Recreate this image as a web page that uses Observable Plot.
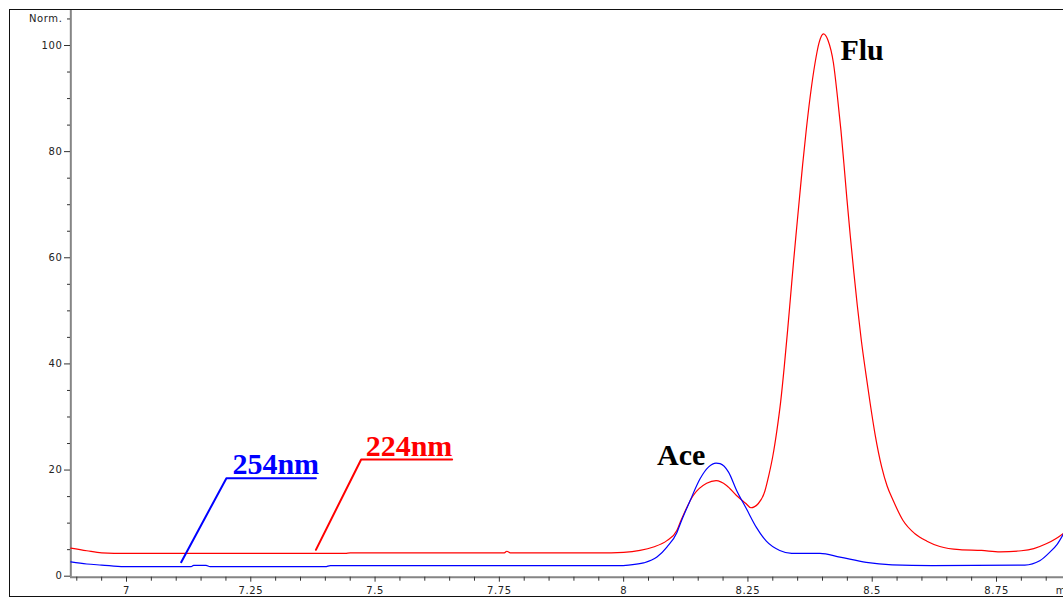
<!DOCTYPE html>
<html>
<head>
<meta charset="utf-8">
<script src="https://cdn.jsdelivr.net/npm/d3@7"></script>
<script src="https://cdn.jsdelivr.net/npm/@observablehq/plot@0.6"></script>
<style>
  html, body { margin: 0; padding: 0; overflow: hidden; background: #fff; }
  #chart { position: relative; width: 1063px; height: 597px; }
  #frame { position: absolute; left: 8.5px; top: 8.5px; width: 1200px; height: 588px;
           box-sizing: border-box; border: 1.5px solid #111; pointer-events: none; }
  g[aria-label$="tick label"] text { letter-spacing: 0.6px; }
</style>
</head>
<body>
<div id="chart"><div id="frame"></div></div>
<script>
// 224nm trace (red): retention time (min) and normalised signal
const redTime  = [6.888, 6.92, 6.95, 7.0, 7.2, 7.44, 7.45, 7.76, 7.765, 7.772, 7.95, 8.0, 8.033, 8.06, 8.087, 8.107, 8.114, 8.140, 8.167, 8.186, 8.207, 8.227, 8.246, 8.256, 8.271, 8.284, 8.292, 8.300, 8.308, 8.316, 8.323, 8.330, 8.336, 8.342, 8.348, 8.354, 8.360, 8.367, 8.375, 8.385, 8.393, 8.402, 8.411, 8.422, 8.430, 8.437, 8.443, 8.449, 8.456, 8.463, 8.470, 8.478, 8.487, 8.496, 8.506, 8.519, 8.530, 8.542, 8.562, 8.586, 8.61, 8.636, 8.676, 8.72, 8.757, 8.80, 8.825, 8.85, 8.87, 8.885];
const redValue = [5.3, 4.8, 4.4, 4.3, 4.3, 4.3, 4.4, 4.4, 4.7, 4.4, 4.4, 4.5, 4.85, 5.5, 6.7, 8.6, 10.2, 15.2, 17.5, 18.0, 17.1, 15.2, 13.7, 12.9, 13.7, 16.0, 19.0, 22.6, 27.3, 33.0, 39.4, 46.5, 53.0, 59.5, 65.6, 71.6, 77.5, 83.8, 90.2, 96.7, 100.5, 102.2, 101.0, 96.7, 90.4, 84.1, 77.8, 71.2, 64.0, 57.3, 51.0, 44.5, 38.3, 32.5, 26.6, 20.6, 17.0, 14.3, 10.5, 8.0, 6.6, 5.6, 5.0, 4.85, 4.6, 4.8, 5.2, 6.1, 7.1, 8.1];

// 254nm trace (blue)
const blueTime  = [6.888, 6.92, 6.95, 6.995, 7.13, 7.135, 7.16, 7.168, 7.40, 7.41, 7.99, 8.01, 8.04, 8.067, 8.087, 8.107, 8.114, 8.134, 8.154, 8.171, 8.186, 8.194, 8.211, 8.227, 8.247, 8.267, 8.287, 8.314, 8.338, 8.395, 8.435, 8.488, 8.54, 8.62, 8.807, 8.837, 8.857, 8.872, 8.885];
const blueValue = [2.7, 2.3, 2.1, 1.8, 1.8, 2.05, 2.05, 1.8, 1.8, 2.0, 2.0, 2.1, 2.5, 3.6, 5.5, 8.2, 9.9, 14.3, 18.4, 20.6, 21.3, 21.2, 19.6, 16.2, 12.7, 9.2, 6.6, 4.85, 4.3, 4.3, 3.6, 2.6, 2.15, 2.0, 2.1, 2.9, 4.5, 6.0, 8.0];

// axis ticks
const xMajorTicks = [7, 7.25, 7.5, 7.75, 8, 8.25, 8.5, 8.75];
const xMinorTicks = [6.9, 6.95, 7.05, 7.1, 7.15, 7.2, 7.3, 7.35, 7.4, 7.45, 7.55, 7.6, 7.65, 7.7, 7.8, 7.85, 7.9, 7.95, 8.05, 8.1, 8.15, 8.2, 8.3, 8.35, 8.4, 8.45, 8.55, 8.6, 8.65, 8.7, 8.8, 8.85];
const yMajorTicks = [0, 20, 40, 60, 80, 100];
const yMinorTicks = [5, 10, 15, 25, 30, 35, 45, 50, 55, 65, 70, 75, 85, 90, 95];
const yUnitTick = [105];
const yUnitLabel = "Norm.";
const xUnitLabel = ["min"];
const xUnitAt = [8.869];

// annotations (data coordinates)
const peakLabels = [
  {t: 8.0672, v: 21.0, text: "Ace"},
  {t: 8.4361, v: 97.3, text: "Flu"}
];
const leader254 = [{t: 7.110, v: 2.64}, {t: 7.201, v: 18.47}, {t: 7.381, v: 18.47}];
const leader224 = [{t: 7.381, v: 4.97}, {t: 7.472, v: 22.0}, {t: 7.655, v: 22.0}];
const wlLabels = [
  {t: 7.213, v: 19.35, text: "254nm", color: "#0000ff"},
  {t: 7.481, v: 22.74, text: "224nm", color: "#ff0000"}
];

const red = redTime.map((t, i) => ({t, v: redValue[i]}));
const blue = blueTime.map((t, i) => ({t, v: blueValue[i]}));

const serif = "'Liberation Serif', 'Times New Roman', serif";

const plot = Plot.plot({
  width: 1063,
  height: 597,
  marginLeft: 70,
  marginRight: 0,
  marginTop: 10,
  marginBottom: 20.3,
  style: {fontFamily: "'DejaVu Sans', sans-serif", fontSize: "10px", color: "#222", background: "transparent"},
  x: {domain: [7, 8.75], range: [126, 996]},
  y: {domain: [0, 100], range: [575.7, 45]},
  marks: [
    Plot.ruleX([redTime[0]], {stroke: "#858585", strokeWidth: 2}),
    Plot.ruleY([0], {stroke: "#858585", strokeWidth: 2, dy: 1}),
    Plot.axisY({ticks: yMajorTicks, tickSize: 6, tickPadding: 2, tickFormat: d => `${d}`, label: null, stroke: "#333"}),
    Plot.axisY({ticks: yMinorTicks, tickSize: 3, tickFormat: () => "", label: null, stroke: "#333"}),
    Plot.axisY({ticks: yUnitTick, tickSize: 3, tickPadding: 5, tickFormat: () => yUnitLabel, label: null, stroke: "#333"}),
    Plot.axisX({ticks: xMajorTicks, tickSize: 5, tickPadding: 5, tickFormat: d => `${d}`, label: null, stroke: "#333"}),
    Plot.axisX({ticks: xMinorTicks, tickSize: 4, tickFormat: () => "", label: null, stroke: "#333"}),
    Plot.text(xUnitLabel, {x: xUnitAt, frameAnchor: "bottom", text: d => d, dy: 17, lineAnchor: "bottom", textAnchor: "start", fill: "#222"}),
    Plot.line(red, {x: "t", y: "v", stroke: "#ff0000", strokeWidth: 1.2, curve: "monotone-x"}),
    Plot.line(blue, {x: "t", y: "v", stroke: "#0000ff", strokeWidth: 1.2, curve: "monotone-x"}),
    Plot.line(leader254, {x: "t", y: "v", stroke: "#0000ff", strokeWidth: 2}),
    Plot.line(leader224, {x: "t", y: "v", stroke: "#ff0000", strokeWidth: 2}),
    Plot.text(wlLabels, {x: "t", y: "v", text: "text", fill: d => d.color, textAnchor: "start", lineAnchor: "bottom", fontSize: 30, fontWeight: "bold", fontFamily: serif}),
    Plot.text(peakLabels, {x: "t", y: "v", text: "text", fill: "#000", textAnchor: "start", lineAnchor: "bottom", fontSize: 30, fontWeight: "bold", fontFamily: serif})
  ]
});
document.getElementById("chart").prepend(plot);
</script>
</body>
</html>
